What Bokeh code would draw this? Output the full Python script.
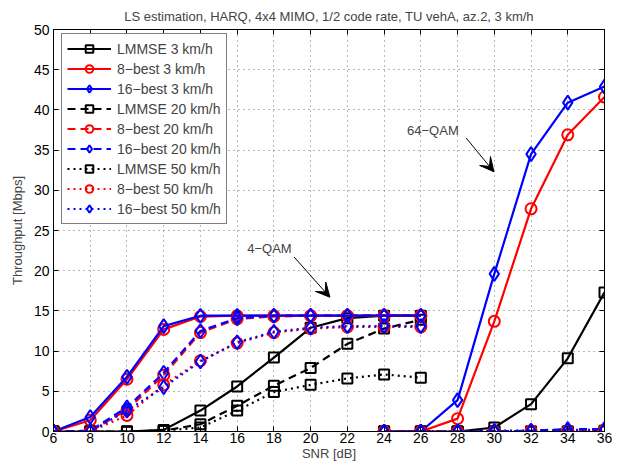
import math
from bokeh.plotting import figure
from bokeh.models import (Range1d, FixedTicker, LinearAxis, Label, Arrow, VeeHead, Title)
from bokeh.embed import file_html
from bokeh.resources import INLINE

FONT = "Liberation Sans"

snr_4qam = [6, 8, 10, 12, 14, 16, 18, 20, 22, 24, 26]
snr_64qam = [24, 26, 28, 30, 32, 34, 36]

# 4-QAM throughput [Mbps]
lmmse_3_4q = [0, 0, 0, 0.2, 2.6, 5.6, 9.2, 12.9, 14.1, 14.4, 14.4]
best8_3_4q = [0, 1.4, 6.5, 12.7, 14.3, 14.4, 14.4, 14.4, 14.4, 14.4, 14.4]
best16_3_4q = [0, 1.8, 6.8, 13.1, 14.4, 14.4, 14.4, 14.4, 14.4, 14.4, 14.4]
lmmse_20_4q = [0, 0, 0, 0.1, 0.9, 3.2, 5.7, 7.9, 10.9, 12.8, 13.9]
best8_20_4q = [0, 0, 2.7, 7.0, 12.3, 14.0, 14.3, 14.4, 14.4, 14.4, 14.4]
best16_20_4q = [0, 0.1, 3.0, 7.3, 12.5, 14.1, 14.4, 14.4, 14.4, 14.4, 14.4]
lmmse_50_4q = [0, 0, 0, 0.1, 0.5, 2.6, 4.9, 5.8, 6.6, 7.1, 6.7]
best8_50_4q = [0, 0, 2.0, 5.8, 8.8, 11.0, 12.3, 12.8, 13.0, 13.0, 13.0]
best16_50_4q = [0, 0, 2.6, 5.5, 8.7, 11.1, 12.4, 12.9, 13.1, 13.1, 13.1]

# 64-QAM throughput [Mbps]
lmmse_3_64q = [0, 0, 0, 0.5, 3.4, 9.1, 17.3]
best8_3_64q = [0, 0, 1.6, 13.7, 27.7, 36.9, 41.6]
best16_3_64q = [0, 0, 3.9, 19.6, 34.5, 40.9, 42.9]
lmmse_20_64q = [0, 0, 0, 0, 0, 0, 0.1]
best8_20_64q = [0, 0, 0, 0, 0, 0.1, 0.2]
best16_20_64q = [0, 0, 0, 0, 0.1, 0.3, 0.3]
lmmse_50_64q = [0, 0, 0, 0, 0, 0, 0]
best8_50_64q = [0, 0, 0, 0, 0.1, 0.1, 0.2]
best16_50_64q = [0, 0, 0, 0.1, 0.1, 0.2, 0.2]

x_ticks = list(range(6, 37, 2))
y_ticks = list(range(0, 51, 5))

series = [
    ("LMMSE 3 km/h", lmmse_3_4q, lmmse_3_64q, "black", "solid", "square"),
    ("8\u2212best 3 km/h", best8_3_4q, best8_3_64q, "red", "solid", "circle"),
    ("16\u2212best 3 km/h", best16_3_4q, best16_3_64q, "blue", "solid", "diamond"),
    ("LMMSE 20 km/h", lmmse_20_4q, lmmse_20_64q, "black", "dashed", "square"),
    ("8\u2212best 20 km/h", best8_20_4q, best8_20_64q, "red", "dashed", "circle"),
    ("16\u2212best 20 km/h", best16_20_4q, best16_20_64q, "blue", "dashed", "diamond"),
    ("LMMSE 50 km/h", lmmse_50_4q, lmmse_50_64q, "black", "dotted", "square"),
    ("8\u2212best 50 km/h", best8_50_4q, best8_50_64q, "red", "dotted", "circle"),
    ("16\u2212best 50 km/h", best16_50_4q, best16_50_64q, "blue", "dotted", "diamond"),
]
dash_map = {"solid": "solid", "dashed": "8 5", "dotted": "2 4"}
size_map = {"square": 10, "circle": 11, "diamond": 14}

p = figure(width=619, height=463, output_backend="svg", toolbar_location=None,
           x_range=Range1d(6, 36), y_range=Range1d(0, 50),
           min_border_left=53, min_border_right=15, min_border_top=10, min_border_bottom=0)

p.title = Title(text="LS estimation, HARQ, 4x4 MIMO, 1/2 code rate, TU vehA, az.2, 3 km/h",
                text_font=FONT, text_font_size="13px", text_font_style="normal",
                align="center", standoff=12, offset=0)

for ax in (p.xaxis[0], p.yaxis[0]):
    ax.major_tick_in = 5
    ax.major_tick_out = 0
    ax.minor_tick_in = 0
    ax.minor_tick_out = 0
    ax.major_label_text_font = FONT
    ax.major_label_text_font_size = "14px"
    ax.major_label_text_color = "black"
    ax.axis_label_text_font = FONT
    ax.axis_label_text_font_size = "13px"
    ax.axis_label_text_font_style = "normal"
    ax.axis_line_color = "black"
    ax.major_tick_line_color = "black"
p.xaxis[0].ticker = FixedTicker(ticks=x_ticks)
p.yaxis[0].ticker = FixedTicker(ticks=y_ticks)
p.xaxis[0].axis_label = "SNR [dB]"
p.yaxis[0].axis_label = "Throughput [Mbps]"
p.xaxis[0].major_label_standoff = 1
p.xaxis[0].axis_label_standoff = 0
p.yaxis[0].major_label_standoff = 4
p.yaxis[0].axis_label_standoff = 6

for loc, ticks in (("above", x_ticks), ("right", y_ticks)):
    a = LinearAxis(ticker=FixedTicker(ticks=ticks), major_tick_in=5, major_tick_out=0,
                   minor_tick_in=0, minor_tick_out=0,
                   major_label_overrides={t: "" for t in ticks},
                   major_label_standoff=0, axis_line_color="black")
    p.add_layout(a, loc)

p.outline_line_color = "black"
p.grid.grid_line_color = "black"
p.grid.grid_line_alpha = 0.55
p.grid.grid_line_dash = "1 4"
p.xgrid.ticker = FixedTicker(ticks=x_ticks)
p.ygrid.ticker = FixedTicker(ticks=y_ticks)

for label, y4, y64, color, style, marker in series:
    xs = snr_4qam + [math.nan] + snr_64qam
    ys = y4 + [math.nan] + y64
    p.line(xs, ys, line_color=color, line_width=2.2, line_dash=dash_map[style],
           legend_label=label)
    p.scatter(snr_4qam + snr_64qam, y4 + y64, marker=marker, size=size_map[marker],
              line_color=color, line_width=2, fill_color=None, legend_label=label)

p.add_layout(Label(x=16.55, y=22.8, text="4\u2212QAM", text_font=FONT, text_font_size="13px",
                   text_baseline="middle", text_align="left"))
p.add_layout(Arrow(x_start=19.1, y_start=21.7, x_end=21.05, y_end=16.7, line_width=1,
                   end=VeeHead(size=14, fill_color="black", line_color="black")))
p.add_layout(Label(x=25.25, y=37.5, text="64\u2212QAM", text_font=FONT, text_font_size="13px",
                   text_baseline="middle", text_align="left"))
p.add_layout(Arrow(x_start=28.47, y_start=36.5, x_end=29.98, y_end=32.3, line_width=1,
                   end=VeeHead(size=14, fill_color="black", line_color="black")))

lg = p.legend[0]
lg.location = (8, 207)
lg.margin = 0
lg.padding = 5
lg.spacing = 1
lg.glyph_width = 44
lg.glyph_height = 19
lg.label_height = 19
lg.label_text_font = FONT
lg.label_text_font_size = "14px"
lg.label_standoff = 6
lg.border_line_color = "black"
lg.border_line_width = 1
lg.background_fill_alpha = 1

open("out.html", "w").write(file_html(p, INLINE))
